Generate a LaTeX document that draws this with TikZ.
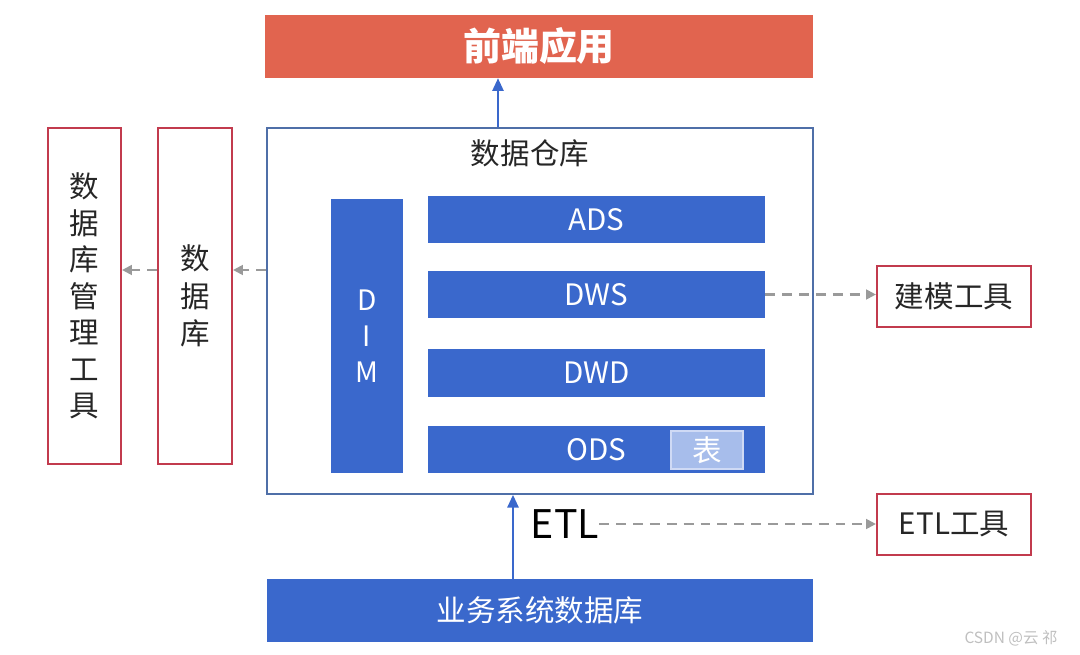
\documentclass[tikz,border=0pt]{standalone}
\usepackage{fontspec}
\setmainfont{Noto Sans CJK SC}
\usetikzlibrary{arrows.meta, positioning}
\definecolor{appred}{HTML}{E1644F}
\definecolor{layblue}{HTML}{3A68CC}
\definecolor{dwline}{HTML}{4F6FA8}
\definecolor{toolred}{HTML}{C23B4E}
\definecolor{dashgray}{HTML}{9A9A9A}
\definecolor{tblfill}{HTML}{A7BDEB}
\definecolor{tblline}{HTML}{CFDAF5}

\begin{document}
\begin{tikzpicture}[x=0.025cm, y=-0.025cm,
    every node/.style={font=\fontsize{21}{26}\selectfont, inner sep=0pt},
    lay/.style={fill=layblue, text=white, minimum width=8.425cm, minimum height=1.175cm},
    tool/.style={draw=toolred, line width=1.5pt, fill=white, minimum height=8.4cm, align=center, text=black!85},
    ext/.style={draw=toolred, line width=1.5pt, fill=white, minimum width=3.85cm, minimum height=1.525cm, text=black!85},
    up/.style={-{Triangle[length=9pt, width=8pt]}, draw=layblue, line width=1.3pt},
    da/.style={-{Triangle[length=7pt, width=7pt]}, draw=dashgray, line width=1.5pt, dash pattern=on 7pt off 5pt}
]
\useasboundingbox (0,0) rectangle (1080,655);
% top and bottom
\node[fill=appred, text=white, minimum width=13.7cm, minimum height=1.575cm, font=\fontsize{27}{30}\selectfont\bfseries] (app) at (539,46.5) {前端应用};
\node[fill=layblue, text=white, minimum width=13.65cm, minimum height=1.575cm] (src) at (540,610.5) {业务系统数据库};
% warehouse
\node[draw=dwline, line width=1.2pt, minimum width=13.65cm, minimum height=9.15cm] (dw) at (540,311) {};
\node[text=black!85] (dwlab) at (530,153) {数据仓库};
\node[fill=layblue, text=white, minimum width=1.8cm, minimum height=6.85cm, align=center, font=\fontsize{20}{25.5}\selectfont] (dim) at (367,336) {D\\I\\M};
\node[lay] (ads) at (596.5,219.5) {ADS};
\node[lay] (dws) at (596.5,294.5) {DWS};
\node[lay] (dwd) at (596.5,373) {DWD};
\node[lay] (ods) at (596.5,449.5) {ODS};
\node[fill=tblfill, draw=tblline, line width=1pt, text=white, minimum width=1.8cm, minimum height=0.95cm] (tbl) at (707,450) {表};
% left side
\node[tool, minimum width=1.85cm, font=\fontsize{21}{26.5}\selectfont] (db) at (195,296) {数\\据\\库};
\node[tool, minimum width=1.825cm, font=\fontsize{21}{26}\selectfont] (dbtool) at (84.5,296) {数\\据\\库\\管\\理\\工\\具};
% right side
\node[ext] (model) at (954,296.5) {建模工具};
\node[ext] (etltool) at (954,524.5) {ETL工具};
\node[font=\fontsize{28}{30}\selectfont] (etl) at (565,524) {ETL};
\node[text=black!25, font=\fontsize{11}{12}\selectfont] (mark) at (1011,638) {CSDN @云 祁};
% connectors
\coordinate (upx) at (498,0);
\coordinate (etlx) at (513,0);
\coordinate (ly) at (0,270);
\draw[up] (dw.north -| upx) -- (app.south -| upx);
\draw[up] (src.north -| etlx) -- (dw.south -| etlx);
\draw[da] (etl.east) -- (etltool.west |- etl.east);
\draw[da] (dws.east) -- (model.west |- dws.east);
\draw[da] (dw.west |- ly) -- (db.east |- ly);
\draw[da] (db.west |- ly) -- (dbtool.east |- ly);
\end{tikzpicture}
\end{document}
